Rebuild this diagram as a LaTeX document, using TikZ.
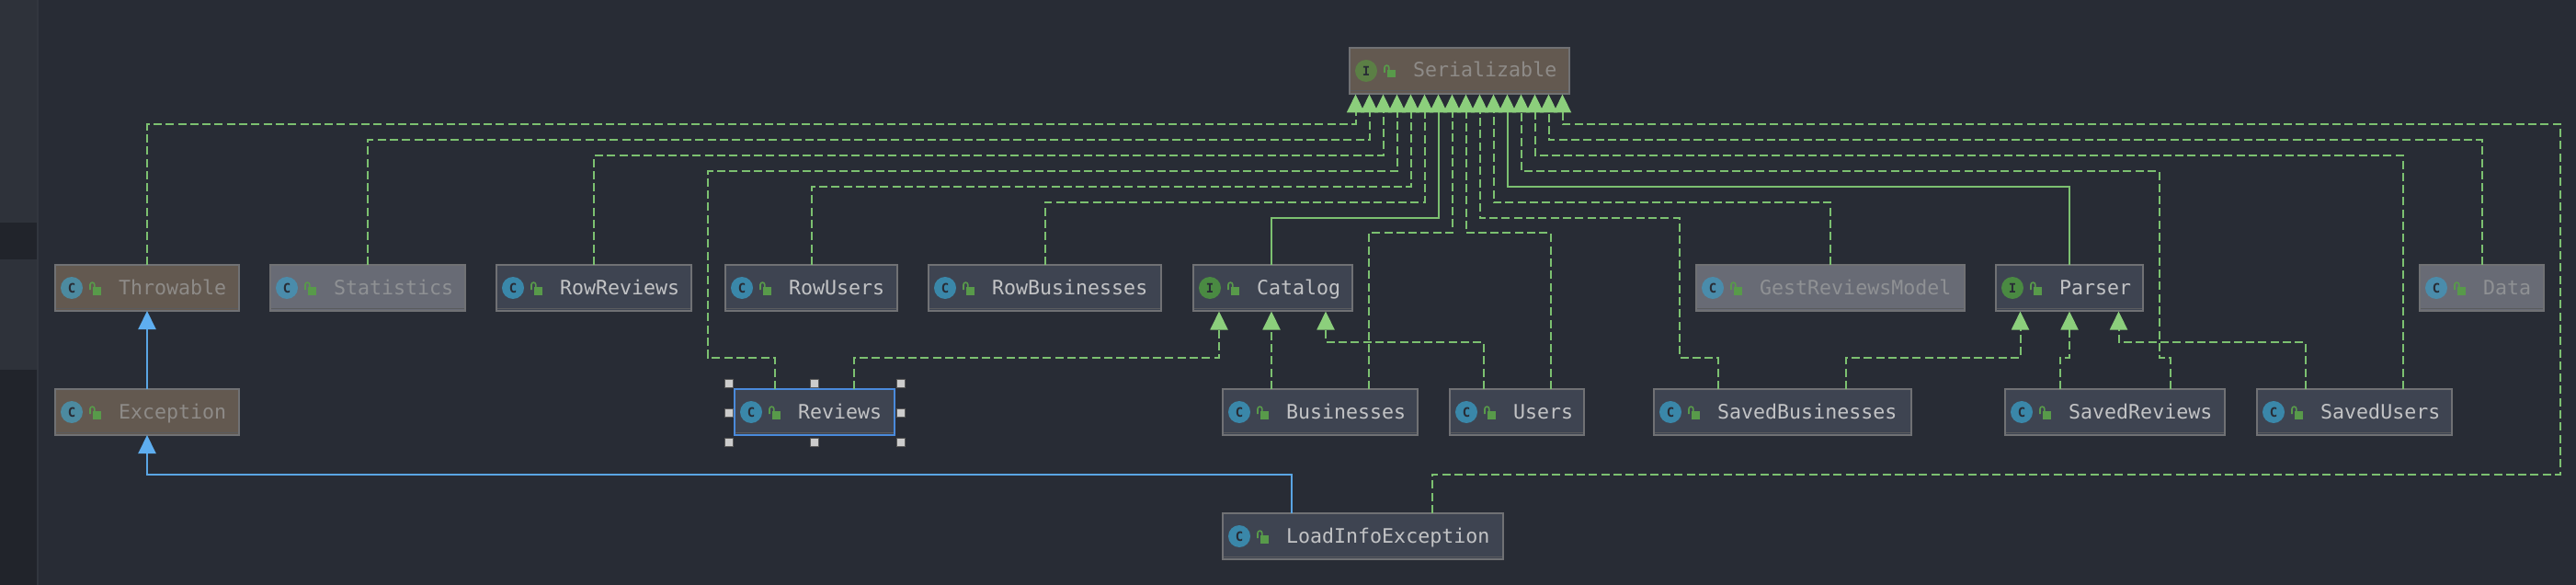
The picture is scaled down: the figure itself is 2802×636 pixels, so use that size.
\documentclass[tikz,border=0pt]{standalone}
\usepackage{fontspec}
\setmonofont{DejaVu Sans Mono}
\usetikzlibrary{arrows.meta}
\definecolor{bgc}{HTML}{282C35}
\definecolor{sideL}{HTML}{2E323A}
\definecolor{sideD}{HTML}{21242B}
\definecolor{sideE}{HTML}{32363E}
\definecolor{fillN}{HTML}{3E4451}
\definecolor{fillG}{HTML}{686B75}
\definecolor{fillB}{HTML}{635950}
\definecolor{textN}{HTML}{C2C3C5}
\definecolor{textG}{HTML}{8F9194}
\definecolor{textB}{HTML}{8E8B88}
\definecolor{icCN}{HTML}{3A87A9}
\definecolor{icCG}{HTML}{4A8CAB}
\definecolor{icCB}{HTML}{4C8AA0}
\definecolor{icIN}{HTML}{4A8A42}
\definecolor{icIB}{HTML}{5B7F45}
\definecolor{lockc}{HTML}{589A4A}
\definecolor{edgeb}{HTML}{707174}
\definecolor{stripb}{HTML}{5A5B5E}
\definecolor{glin}{HTML}{7CC070}
\definecolor{garr}{HTML}{8CCF7C}
\definecolor{blin}{HTML}{5AA5E4}
\definecolor{barr}{HTML}{5EAEF0}
\definecolor{selb}{HTML}{4A8ADB}
\tikzset{
  boxnode/.style={draw=edgeb,line width=1.5pt,inner sep=0pt,outer sep=0pt,anchor=north west,minimum height=50pt},
  labelnode/.style={anchor=base west,inner sep=0pt,font=\ttfamily\fontsize{21.6}{24}\selectfont},
  iconnode/.style={circle,inner sep=0pt,outer sep=0pt,minimum size=24pt,text=bgc,font=\ttfamily\bfseries\fontsize{14}{16}\selectfont},
  dep/.style={glin,line width=2pt,dash pattern=on 9pt off 4.3pt,-{Triangle[length=20pt,width=19pt,color=garr,fill=garr,sep=0pt]}},
  real/.style={glin,line width=2pt,-{Triangle[length=20pt,width=19pt,color=garr,fill=garr,sep=0pt]}},
  ext/.style={blin,line width=2pt,-{Triangle[length=20pt,width=19pt,color=barr,fill=barr,sep=0pt]}},
  handle/.style={draw=gray!70!black,fill=black!20,line width=1pt,inner sep=0pt,outer sep=0pt,minimum size=9pt},
}
% name, left, right, top, kind (N/G/B), letter (C/I), label
\newcommand{\classbox}[7]{%
  \pgfmathsetmacro{\bw}{#3-#2}%
  \node[boxnode,fill=fill#5,minimum width=\bw pt] (#1) at (#2,#4) {};
  \draw[stripb,line width=1pt] (#2+1,#4+47) -- (#3-1,#4+47);
  \node[iconnode,fill=ic#6#5] (#1-icon) at (#2+18,#4+25) {#6};
  \fill[lockc] (#2+41,#4+24) rectangle (#2+50,#4+32.5);
  \draw[lockc,line width=1.6pt] (#2+38,#4+27) -- (#2+38,#4+21.5) arc[start angle=180,end angle=0,radius=2.4pt] -- (#2+42.8,#4+24);
  \node[labelnode,text=text#5] (#1-label) at (#2+69,#4+32) {#7};
}
\begin{document}
\begin{tikzpicture}[x=1pt,y=-1pt]
\useasboundingbox (0,0) rectangle (2802,636);
\fill[bgc] (0,0) rectangle (2802,636);
\fill[sideL] (0,0) rectangle (40,242);
\fill[sideD] (0,242) rectangle (40,282);
\fill[sideL] (0,282) rectangle (40,402);
\fill[sideD] (0,402) rectangle (40,636);
\fill[sideE] (40,0) rectangle (42,636);

\classbox{serial}{1468}{1707}{52}{B}{I}{Serializable}
\classbox{throwable}{60}{260}{288}{B}{C}{Throwable}
\classbox{statistics}{294}{506}{288}{G}{C}{Statistics}
\classbox{rowreviews}{540}{752}{288}{N}{C}{RowReviews}
\classbox{rowusers}{789}{976}{288}{N}{C}{RowUsers}
\classbox{rowbiz}{1010}{1263}{288}{N}{C}{RowBusinesses}
\classbox{catalog}{1298}{1471}{288}{N}{I}{Catalog}
\classbox{gest}{1845}{2137}{288}{G}{C}{GestReviewsModel}
\classbox{parser}{2171}{2331}{288}{N}{I}{Parser}
\classbox{data}{2632}{2767}{288}{G}{C}{Data}
\classbox{exception}{60}{260}{423}{B}{C}{Exception}
\classbox{reviews}{799}{973}{423}{N}{C}{Reviews}
\classbox{businesses}{1330}{1542}{423}{N}{C}{Businesses}
\classbox{users}{1577}{1723}{423}{N}{C}{Users}
\classbox{savedbiz}{1799}{2079}{423}{N}{C}{SavedBusinesses}
\classbox{savedrev}{2181}{2420}{423}{N}{C}{SavedReviews}
\classbox{savedusr}{2455}{2667}{423}{N}{C}{SavedUsers}
\classbox{loadinfo}{1330}{1635}{558}{N}{C}{LoadInfoException}

% selection of Reviews
\draw[selb,line width=1.5pt] (reviews.north west) rectangle (reviews.south east);
\foreach \i/\hx/\hy in {1/793/417,2/886/417,3/980/417,4/793/449,5/980/449,6/793/481,7/886/481,8/980/481}
  \node[handle] (h\i) at (\hx,\hy) {};

% attachment points on Serializable
\foreach \i in {1,...,16} {
  \pgfmathsetmacro{\sx}{1459.5+15*\i}
  \coordinate (s\i) at (\sx,102.5);
}
\coordinate (c1) at (1326,338.5);
\coordinate (c2) at (1383,338.5);
\coordinate (c3) at (1442,338.5);
\coordinate (p1) at (2197.5,338.5);
\coordinate (p2) at (2251,338.5);
\coordinate (p3) at (2304.5,338.5);
\coordinate (rvL) at (842.5,423);
\coordinate (rvR) at (929,423);
\coordinate (bzL) at (1383,423);
\coordinate (bzR) at (1489,423);
\coordinate (usL) at (1613.5,423);
\coordinate (usR) at (1686.5,423);
\coordinate (sbL) at (1869,423);
\coordinate (sbR) at (2008,423);
\coordinate (srL) at (2240.5,423);
\coordinate (srR) at (2361,423);
\coordinate (suL) at (2507.5,423);
\coordinate (suR) at (2613.5,423);
\coordinate (liL) at (1405,558);
\coordinate (liR) at (1558,558);

% connectors to Serializable
\draw[dep] (throwable.north) |- (s1 |- 0,135.3) -- (s1);
\draw[dep] (statistics.north) |- (s2 |- 0,152.3) -- (s2);
\draw[dep] (rowreviews.north) |- (s3 |- 0,169.3) -- (s3);
\draw[dep] (rvL) |- (770,389) |- (s4 |- 0,186.3) -- (s4);
\draw[dep] (rowusers.north) |- (s5 |- 0,203.3) -- (s5);
\draw[dep] (rowbiz.north) |- (s6 |- 0,220.3) -- (s6);
\draw[real] (c2 |- catalog.north) |- (s7 |- 0,237.3) -- (s7);
\draw[dep] (bzR) |- (s8 |- 0,253.3) -- (s8);
\draw[dep] (usR) |- (s9 |- 0,253.3) -- (s9);
\draw[dep] (sbL) |- (1827,389) |- (s10 |- 0,237.3) -- (s10);
\draw[dep] (gest.north) |- (s11 |- 0,220.3) -- (s11);
\draw[real] (parser.north) |- (s12 |- 0,203.3) -- (s12);
\draw[dep] (srR) |- (2349,389) |- (s13 |- 0,186.3) -- (s13);
\draw[dep] (suR) |- (s14 |- 0,169.3) -- (s14);
\draw[dep] (data.north) |- (s15 |- 0,152.3) -- (s15);
\draw[dep] (liR) |- (2785,515.5) |- (s16 |- 0,135.3) -- (s16);

% connectors to Catalog and Parser
\draw[dep] (rvR) |- (c1 |- 0,389) -- (c1);
\draw[dep] (bzL) -- (c2);
\draw[dep] (usL) |- (c3 |- 0,372) -- (c3);
\draw[dep] (sbR) |- (p1 |- 0,389) -- (p1);
\draw[dep] (srL) |- (p2 |- 0,389) -- (p2);
\draw[dep] (suL) |- (p3 |- 0,372) -- (p3);

% inheritance
\draw[ext] (exception.north) -- (throwable.south);
\draw[ext] (liL) |- (exception.south |- 0,515.5) -- (exception.south);
\end{tikzpicture}
\end{document}
